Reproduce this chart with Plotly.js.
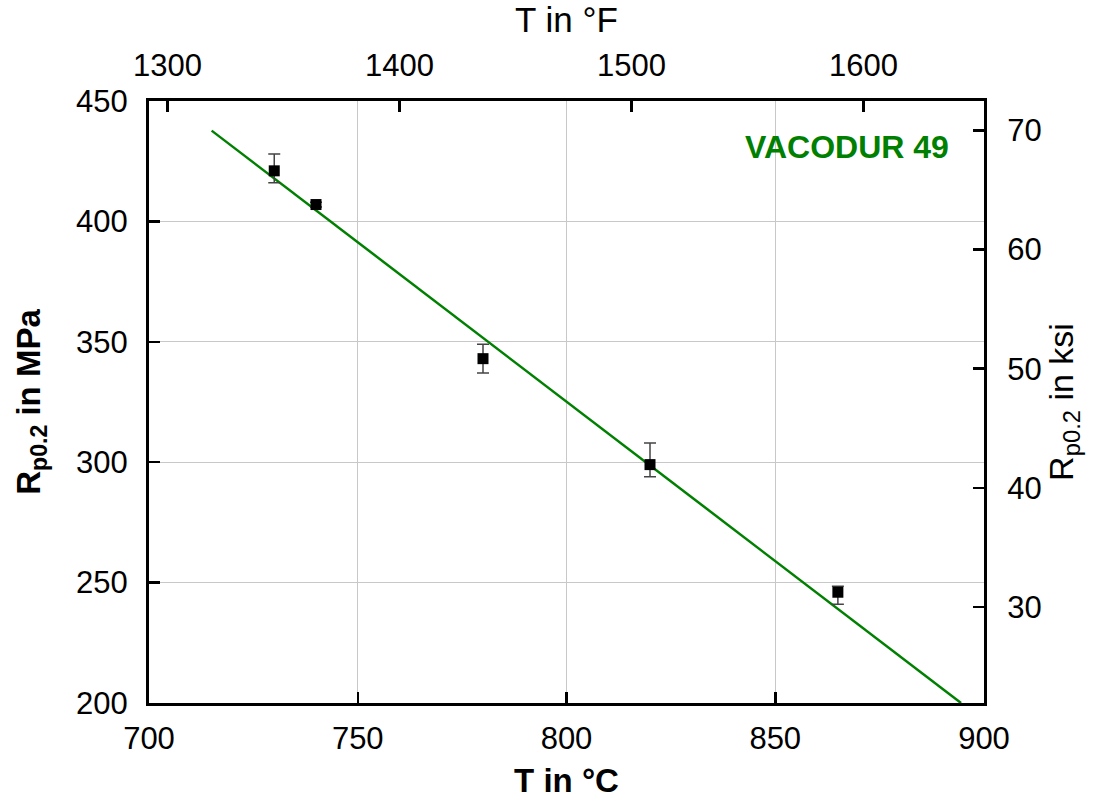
<!DOCTYPE html>
<html>
<head>
<meta charset="utf-8">
<script src="https://cdn.plot.ly/plotly-3.0.1.min.js"></script>
<style>html,body{margin:0;padding:0;background:#fff;}#chart{width:1099px;height:806px;}</style>
</head>
<body>
<div id="chart"></div>
<script>
// Measured data (T in °C, Rp0.2 in MPa)
const tempC = [730, 740, 780, 820, 865];
const rp02 = [421, 407, 343, 299, 246];
const errPlus = [7, 1, 6, 9, 2.5];
const errMinus = [5, 1, 6, 5, 5];

// Linear fit line endpoints
const fitT = [715, 894.5];
const fitR = [437.7, 200];

// Axis ticks
const bottomTicks = [700, 750, 800, 850, 900];
const leftTicks = [200, 250, 300, 350, 400, 450];
const topTicks = [1300, 1400, 1500, 1600];
const rightTicks = [30, 40, 50, 60, 70];

const FONT = 'Arial, "Liberation Sans", sans-serif';

const traces = [
  {
    x: fitT, y: fitR, mode: 'lines', type: 'scatter',
    line: {color: '#008000', width: 2.5},
    hoverinfo: 'skip', showlegend: false
  },
  {
    x: tempC, y: rp02, mode: 'markers', type: 'scatter',
    marker: {symbol: 'square', size: 11, color: '#000'},
    error_y: {type: 'data', symmetric: false, array: errPlus, arrayminus: errMinus,
              color: '#444', thickness: 1.5, width: 6},
    showlegend: false
  },
  {
    x: [], y: [], xaxis: 'x2', yaxis: 'y2', type: 'scatter', mode: 'markers',
    showlegend: false, hoverinfo: 'skip'
  }
];

const axisCommon = {
  showline: true, linecolor: '#000', linewidth: 3,
  ticks: 'inside', ticklen: 11, tickwidth: 2.5, tickcolor: '#000',
  zeroline: false,
  tickfont: {family: FONT, size: 31, color: '#000'}
};

const layout = {
  width: 1099, height: 806,
  margin: {l: 149, r: 115, t: 101, b: 103, pad: 0},
  paper_bgcolor: '#fff', plot_bgcolor: '#fff',
  font: {family: FONT, color: '#000'},
  xaxis: Object.assign({}, axisCommon, {
    range: [700, 900], tickvals: bottomTicks, ticktext: bottomTicks.map(String),
    showgrid: true, gridcolor: '#c8c8c8', gridwidth: 1,
    ticklabelstandoff: 6,
    title: {text: '<b>T in °C</b>', font: {family: FONT, size: 33}, standoff: 14}
  }),
  yaxis: Object.assign({}, axisCommon, {
    range: [200, 450], tickvals: leftTicks, ticktext: leftTicks.map(String),
    showgrid: true, gridcolor: '#c8c8c8', gridwidth: 1,
    ticklabelstandoff: 12,
    title: {text: '<b>R<sub>p0.2</sub> in MPa</b>', font: {family: FONT, size: 33}, standoff: 26}
  }),
  xaxis2: Object.assign({}, axisCommon, {
    overlaying: 'x', side: 'top', anchor: 'y2',
    range: [1292, 1652], tickvals: topTicks, ticktext: topTicks.map(String),
    showgrid: false, ticklabelstandoff: 10,
    title: {text: 'T in °F', font: {family: FONT, size: 35}, standoff: 8}
  }),
  yaxis2: Object.assign({}, axisCommon, {
    overlaying: 'y', side: 'right', anchor: 'x2',
    range: [21.93, 72.48], tickvals: rightTicks, ticktext: rightTicks.map(String),
    showgrid: false, ticklabelstandoff: 14,
    title: {text: 'R<sub>p0.2</sub> in ksi', font: {family: FONT, size: 34}, standoff: 8}
  }),
  annotations: [{
    text: '<b>VACODUR 49</b>', xref: 'x', yref: 'y', x: 892, y: 431,
    xanchor: 'right', yanchor: 'middle', showarrow: false,
    font: {family: FONT, size: 32, color: '#008000'}
  }]
};

Plotly.newPlot('chart', traces, layout, {displayModeBar: false, staticPlot: true});
</script>
</body>
</html>
